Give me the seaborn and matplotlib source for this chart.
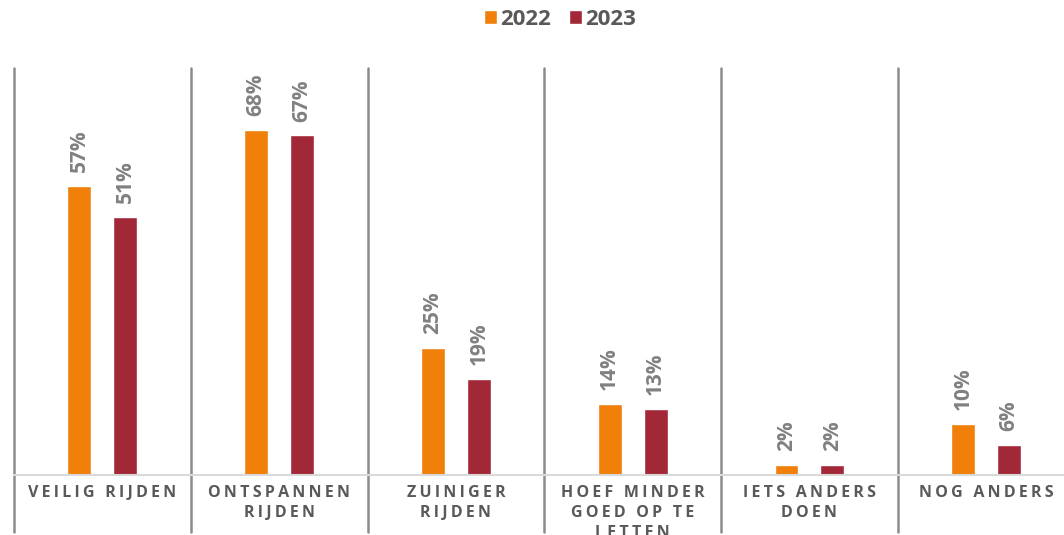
import pandas as pd
import numpy as np
import matplotlib.pyplot as plt
import seaborn as sns

categories = ['VEILIG RIJDEN', 'ONTSPANNEN\nRIJDEN', 'ZUINIGER\nRIJDEN',
              'HOEF MINDER\nGOED OP TE\nLETTEN', 'IETS ANDERS\nDOEN', 'NOG ANDERS']
years = ['2022', '2023']
values_2022 = [57, 68, 25, 14, 2, 10]
values_2023 = [51, 67, 19, 13, 2, 6]
colors = ['#F0800A', '#A22737']

df = pd.DataFrame({
    'categorie': categories * 2,
    'jaar': [years[0]] * len(categories) + [years[1]] * len(categories),
    'waarde': values_2022 + values_2023,
})


def spaced(text):
    # letterspacing nabootsen met dunne spaties
    return '\n'.join('\u2009'.join(line) for line in text.split('\n'))


sns.set_style('white')
plt.rcParams['font.family'] = ['Open Sans', 'DejaVu Sans']

fig = plt.figure(figsize=(10.64, 5.35), dpi=100)
ax = fig.add_axes([14 / 1064, 60 / 535, 1050 / 1064, 407 / 535])

sns.barplot(data=df, x='categorie', y='waarde', hue='jaar', hue_order=years,
            palette=colors, saturation=1, width=0.52, gap=0.48, ax=ax,
            legend=True)

for cont in ax.containers:
    ax.bar_label(cont, fmt='{:.0f}%', rotation=90, padding=10,
                 fontsize=15, fontweight='bold', color='#808080')

ax.set_ylim(0, 80.3)
ax.set_xlim(-0.5, 5.44)
ax.set_xlabel('')
ax.set_ylabel('')
ax.set_yticks([])
ax.set_xticks(range(len(categories)))
ax.set_xticklabels([spaced(c) for c in categories], fontsize=11.5,
                   fontweight='bold', color='#595959', linespacing=1.35)
ax.tick_params(axis='x', length=0, pad=7)

for s in ['top', 'right', 'left']:
    ax.spines[s].set_visible(False)
ax.spines['bottom'].set_color('#D9D9D9')
ax.spines['bottom'].set_linewidth(1.5)

for i in range(len(categories) + 1):
    ax.axvline(i - 0.5, ymin=-0.14, ymax=1, color='#8C8C8C', lw=1.8,
               clip_on=False)

handles, labels = ax.get_legend_handles_labels()
ax.legend(handles, labels, loc='center', bbox_to_anchor=(0.52, 1.12),
          ncol=2, frameon=False, handlelength=0.6,
          handleheight=0.6, handletextpad=0.15, columnspacing=0.8,
          prop={'weight': 'bold', 'size': 16})
for t in ax.get_legend().get_texts():
    t.set_color('#595959')

fig.savefig('out.png', dpi=100)
